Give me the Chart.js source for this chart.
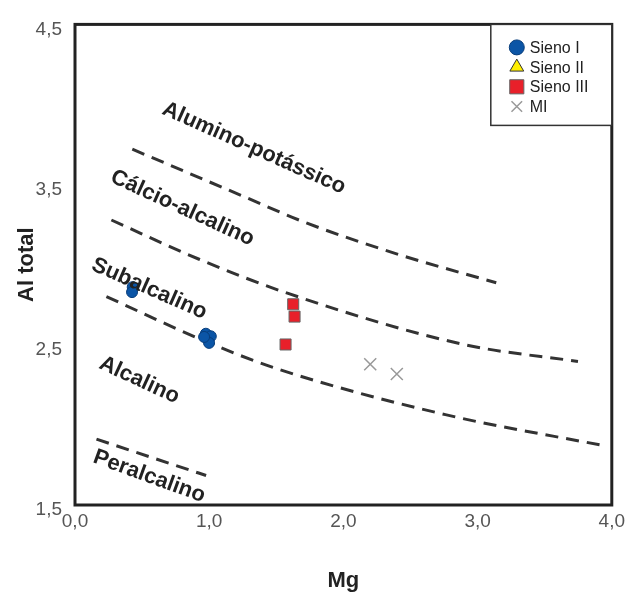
<!DOCTYPE html>
<html>
<head>
<meta charset="utf-8">
<script src="https://cdn.jsdelivr.net/npm/chart.js@4/dist/chart.umd.min.js"></script>
<style>
html, body { margin: 0; padding: 0; background: #ffffff; }
#wrap { width: 630px; height: 594px; }
</style>
</head>
<body>
<div id="wrap"><canvas id="diagram" width="630" height="594"></canvas></div>
<script>
// sample points (Mg, Al total)
const sienoIMg = [0.43, 0.425, 0.975, 1.012, 0.999, 0.962];
const sienoIAl = [2.860, 2.829, 2.569, 2.553, 2.512, 2.549];
const sienoIIMg = [];
const sienoIIAl = [];
const sienoIIIMg = [1.626, 1.636, 1.569];
const sienoIIIAl = [2.753, 2.676, 2.502];
const miMg = [2.200, 2.398];
const miAl = [2.379, 2.318];

// dashed field boundaries
const alkPotMg = [0.427, 1.274, 1.705, 2.411, 3.139];
const alkPotAl = [3.721, 3.420, 3.267, 3.064, 2.887];
const calcAlkMg = [0.271, 0.925, 1.594, 2.909, 3.748];
const calcAlkAl = [3.279, 3.034, 2.819, 2.500, 2.396];
const subAlkMg = [0.234, 0.999, 1.519, 2.760, 3.956];
const subAlkAl = [2.801, 2.512, 2.347, 2.064, 1.868];
const peralkMg = [0.160, 0.977];
const peralkAl = [1.911, 1.684];

const xTicks = [0, 1, 2, 3, 4];
const yTicks = [1.5, 2.5, 3.5, 4.5];

const fieldNames = ["Alumino-potássico", "Cálcio-alcalino", "Subalcalino", "Alcalino", "Peralcalino"];
const fieldMg = [1.334, 0.800, 0.553, 0.479, 0.553];
const fieldAl = [3.727, 3.353, 2.850, 2.279, 1.678];
const fieldAngle = [24, 24.5, 23.7, 24.8, 20];

function toPoints(xs, ys) {
const pts = [];
for (let i = 0; i < xs.length; i++) {
pts.push({ x: xs[i], y: ys[i] });
}
return pts;
}

function commaLabel(v) {
return Number(v).toFixed(1).replace(".", ",");
}

function boundary(xs, ys) {
return {
type: "line",
data: toPoints(xs, ys),
showLine: true,
borderColor: "#333333",
borderWidth: 3,
borderDash: [13, 8],
pointRadius: 0,
cubicInterpolationMode: "monotone",
fill: false,
order: 5,
isBoundary: true
};
}

const framePlugin = {
id: "frame",
afterDatasetsDraw(chart) {
const a = chart.chartArea;
const ctx = chart.ctx;
ctx.save();
ctx.strokeStyle = "#222222";
ctx.lineWidth = 3;
ctx.strokeRect(a.left, a.top, a.right - a.left, a.bottom - a.top);
ctx.restore();
}
};

const fieldLabelPlugin = {
id: "fieldLabels",
afterDatasetsDraw(chart) {
const ctx = chart.ctx;
const xs = chart.scales.x;
const ys = chart.scales.y;
ctx.save();
ctx.fillStyle = "#222222";
ctx.font = "bold 22px 'Liberation Sans', Arial, sans-serif";
ctx.textAlign = "center";
ctx.textBaseline = "middle";
for (let i = 0; i < fieldNames.length; i++) {
const px = xs.getPixelForValue(fieldMg[i]);
const py = ys.getPixelForValue(fieldAl[i]);
ctx.save();
ctx.translate(px, py);
ctx.rotate(fieldAngle[i] * Math.PI / 180);
ctx.fillText(fieldNames[i], 0, 0);
ctx.restore();
}
ctx.restore();
}
};

const legendBoxPlugin = {
id: "legendBox",
afterDraw(chart) {
const a = chart.chartArea;
const ctx = chart.ctx;
const w = 121;
const h = 101;
const left = a.right - w;
const top = a.top;
ctx.save();
ctx.fillStyle = "#ffffff";
ctx.fillRect(left, top, w, h);
ctx.strokeStyle = "#333333";
ctx.lineWidth = 1.5;
ctx.strokeRect(left, top, w, h);
const items = chart.data.datasets.filter(d => !d.isBoundary);
ctx.font = "16px 'Liberation Sans', Arial, sans-serif";
ctx.textBaseline = "middle";
ctx.textAlign = "left";
for (let i = 0; i < items.length; i++) {
const d = items[i];
const cy = top + 23 + i * 19.7;
ctx.fillStyle = d.backgroundColor;
ctx.strokeStyle = d.borderColor;
ctx.lineWidth = d.borderWidth;
Chart.helpers.drawPoint(ctx, { pointStyle: d.pointStyle, radius: d.legendRadius, rotation: 0, borderWidth: d.borderWidth }, left + 26, cy);
ctx.fillStyle = "#222222";
ctx.fillText(d.label, left + 39, cy + 1);
}
ctx.restore();
}
};

new Chart(document.getElementById("diagram"), {
type: "scatter",
data: {
datasets: [
{
label: "Sieno I",
data: toPoints(sienoIMg, sienoIAl),
pointStyle: "circle",
pointRadius: 5.5,
legendRadius: 7.5,
backgroundColor: "#0b55a6",
borderColor: "#083e7c",
borderWidth: 1,
order: 1
},
{
label: "Sieno II",
data: toPoints(sienoIIMg, sienoIIAl),
pointStyle: "triangle",
pointRadius: 6,
legendRadius: 8,
backgroundColor: "#ffee00",
borderColor: "#333333",
borderWidth: 1,
order: 1
},
{
label: "Sieno III",
data: toPoints(sienoIIIMg, sienoIIIAl),
pointStyle: "rect",
pointRadius: 7.8,
legendRadius: 10,
backgroundColor: "#e8202a",
borderColor: "#666666",
borderWidth: 1,
order: 1
},
{
label: "MI",
data: toPoints(miMg, miAl),
pointStyle: "crossRot",
pointRadius: 8.5,
legendRadius: 7.5,
backgroundColor: "#999999",
borderColor: "#999999",
borderWidth: 1.5,
order: 1
},
boundary(alkPotMg, alkPotAl),
boundary(calcAlkMg, calcAlkAl),
boundary(subAlkMg, subAlkAl),
boundary(peralkMg, peralkAl)
]
},
options: {
responsive: false,
animation: false,
events: [],
layout: {
padding: { top: 16, right: 16, left: 0, bottom: 0 }
},
plugins: {
legend: { display: false },
tooltip: { enabled: false }
},
scales: {
x: {
type: "linear",
min: 0,
max: 4,
afterBuildTicks: scale => {
scale.ticks = xTicks.map(v => ({ value: v }));
},
afterFit: scale => {
scale.height = 89;
},
grid: { display: false, drawTicks: false },
border: { display: false },
ticks: {
color: "#555555",
padding: 5,
font: { family: "'Liberation Sans', Arial, sans-serif", size: 19 },
callback: value => commaLabel(value)
},
title: {
display: true,
text: "Mg",
color: "#222222",
padding: { top: 4, bottom: 0 },
font: { family: "'Liberation Sans', Arial, sans-serif", size: 22, weight: "bold" }
}
},
y: {
type: "linear",
min: 1.5,
max: 4.5,
afterBuildTicks: scale => {
scale.ticks = yTicks.map(v => ({ value: v }));
},
afterFit: scale => {
scale.width = 75;
},
grid: { display: false, drawTicks: false },
border: { display: false },
ticks: {
color: "#555555",
padding: 13,
labelOffset: 5,
font: { family: "'Liberation Sans', Arial, sans-serif", size: 19 },
callback: value => commaLabel(value)
},
title: {
display: true,
text: "Al total",
color: "#222222",
padding: { top: 14, bottom: 0 },
font: { family: "'Liberation Sans', Arial, sans-serif", size: 22, weight: "bold" }
}
}
}
},
plugins: [framePlugin, fieldLabelPlugin, legendBoxPlugin]
});
</script>
</body>
</html>
